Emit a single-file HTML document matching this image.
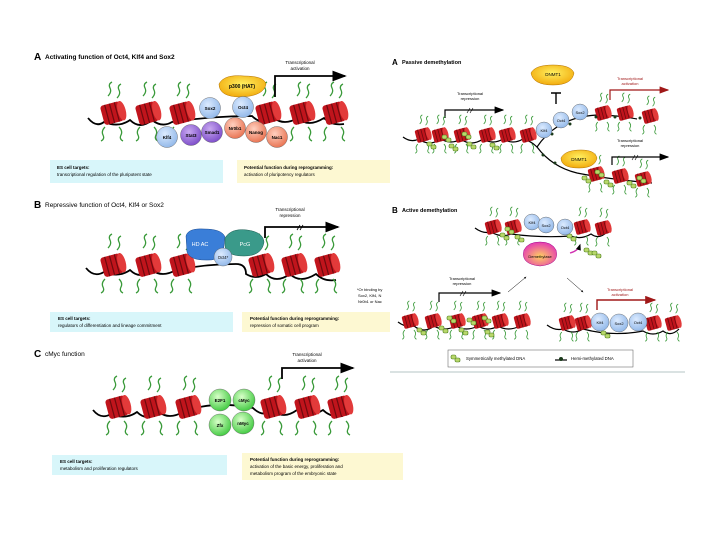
<!DOCTYPE html>
<html><head><meta charset="utf-8"><style>
html,body{margin:0;padding:0;background:#fff}
svg{display:block;font-family:"Liberation Sans",sans-serif}
</style></head><body>
<svg width="720" height="540" viewBox="0 0 720 540" xmlns="http://www.w3.org/2000/svg">
<defs>
<g id="n">
 <path d="M-5,-17 q4,-4 2,-8 q-2,-4 2,-6 M4,-15 q4,-4 2,-8 q-2,-4 2,-6 M-8,14 q-4,4 -2,8 q2,4 -2,6 M6,14 q4,4 2,8 q-2,4 2,6" fill="none" stroke="#3a9a3a" stroke-width="1.3"/>
 <g transform="rotate(-15)">
  <rect x="-11" y="-10" width="20" height="20" rx="3" fill="#c0141c"/>
  <ellipse cx="9" cy="0" rx="4" ry="10" fill="#e23a3a"/>
  <path d="M-6,-10 v20 M-1,-10 v20 M4,-10 v20" stroke="#6e0a0e" stroke-width="1.2"/>
 </g>
</g>
<g id="m"><rect x="-3" y="-2" width="5" height="4" rx="1.5" fill="#b8d86a" stroke="#4a7a1a" stroke-width=".6"/><rect x="1" y="1" width="5" height="4" rx="1.5" fill="#b8d86a" stroke="#4a7a1a" stroke-width=".6"/></g>
<radialGradient id="gb" cx=".4" cy=".35" r=".7"><stop offset="0" stop-color="#dcebff"/><stop offset="1" stop-color="#8fb6e8"/></radialGradient>
<radialGradient id="gp" cx=".4" cy=".35" r=".7"><stop offset="0" stop-color="#c8a8f0"/><stop offset="1" stop-color="#7a4ac8"/></radialGradient>
<radialGradient id="gs" cx=".4" cy=".35" r=".7"><stop offset="0" stop-color="#ffd0c0"/><stop offset="1" stop-color="#e8704e"/></radialGradient>
<radialGradient id="gg" cx=".4" cy=".35" r=".7"><stop offset="0" stop-color="#d8ffc8"/><stop offset="1" stop-color="#3cc83c"/></radialGradient>
<radialGradient id="gy" cx=".5" cy=".4" r=".7"><stop offset="0" stop-color="#fff060"/><stop offset="1" stop-color="#f0a000"/></radialGradient>
<radialGradient id="gm" cx=".5" cy=".6" r=".7"><stop offset="0" stop-color="#ffd060"/><stop offset="1" stop-color="#e020c0"/></radialGradient>
<marker id="ab" markerWidth="8" markerHeight="6" refX="7" refY="3" orient="auto"><path d="M0,0 L8,3 L0,6z" fill="#000"/></marker>
<marker id="ar" markerWidth="8" markerHeight="6" refX="7" refY="3" orient="auto"><path d="M0,0 L8,3 L0,6z" fill="#a01818"/></marker>
<marker id="as" markerWidth="5" markerHeight="4" refX="4" refY="2" orient="auto"><path d="M0,0 L5,2 L0,4z" fill="#000"/></marker>
</defs>

<!-- ================= LEFT A ================= -->
<text x="34" y="60" font-size="10" font-weight="bold">A</text>
<text x="45" y="59" font-size="6.5" font-weight="bold">Activating function of Oct4, Klf4 and Sox2</text>
<path d="M88,118 q8,10 16,4 q15,6 26,-2 q10,10 22,0 q10,8 20,2 q40,-6 80,-6 q10,10 22,2 q10,8 24,0 q10,10 26,0 q8,8 20,6" fill="none" stroke="#000" stroke-width="1.8"/>
<use href="#n" x="113" y="113"/><use href="#n" x="148" y="113"/><use href="#n" x="182" y="113"/>
<use href="#n" x="268" y="113"/><use href="#n" x="302" y="113"/><use href="#n" x="335" y="113"/>
<path d="M219,84 q5,-10 25,-8 q20,0 22,8 q-2,12 -25,13 q-22,0 -22,-13z" fill="url(#gy)" stroke="#b07000" stroke-width=".5"/>
<text x="242" y="88" font-size="5" text-anchor="middle" font-weight="bold">p300 (HAT)</text>
<path d="M275,97 V76 H345" fill="none" stroke="#000" stroke-width="1.8" marker-end="url(#ab)"/>
<text x="300" y="64" font-size="4.5" text-anchor="middle">Transcriptional</text><text x="300" y="70" font-size="4.5" text-anchor="middle">activation</text>
<g stroke="#555" stroke-width=".4" font-size="4.5" text-anchor="middle" font-weight="bold">
<circle cx="210" cy="108" r="10.5" fill="url(#gb)"/><circle cx="243" cy="107" r="10.5" fill="url(#gb)"/>
<circle cx="167" cy="137" r="10.5" fill="url(#gb)"/><circle cx="191" cy="135" r="10.5" fill="url(#gp)"/><circle cx="212" cy="132" r="10.5" fill="url(#gp)"/>
<circle cx="235" cy="128" r="10.5" fill="url(#gs)"/><circle cx="256" cy="132" r="10.5" fill="url(#gs)"/><circle cx="277" cy="137" r="10.5" fill="url(#gs)"/>
</g>
<g font-size="4.5" text-anchor="middle" font-weight="bold">
<text x="210" y="110">Sox2</text><text x="243" y="109">Oct4</text><text x="167" y="139">Klf4</text><text x="191" y="137">Stat3</text><text x="212" y="134">Smad1</text><text x="235" y="130">Nr0b1</text><text x="256" y="134">Nanog</text><text x="277" y="139">Nac1</text>
</g>
<rect x="50" y="160" width="173" height="23" fill="#d8f6fa"/>
<text x="57" y="169" font-size="4.5" font-weight="bold">ES cell targets:</text><text x="57" y="176" font-size="4.5">transcriptional regulation of the pluripotent state</text>
<rect x="237" y="160" width="153" height="23" fill="#fdf8d2"/>
<text x="244" y="169" font-size="4.5" font-weight="bold">Potential function during reprogramming:</text><text x="244" y="176" font-size="4.5">activation of pluripotency regulators</text>

<!-- ================= LEFT B ================= -->
<text x="34" y="208" font-size="10" font-weight="bold">B</text>
<text x="45" y="207" font-size="6.5">Repressive function of Oct4, Klf4 or Sox2</text>
<path d="M86,268 q8,10 18,4 q15,6 26,-2 q10,10 22,0 q10,8 24,0 q30,-6 60,-6 q10,0 10,10 q10,6 20,0 q10,10 24,0 q10,10 26,0 q8,8 20,6" fill="none" stroke="#000" stroke-width="1.8"/>
<use href="#n" x="113" y="265"/><use href="#n" x="148" y="265"/><use href="#n" x="182" y="265"/>
<use href="#n" x="261" y="265"/><use href="#n" x="294" y="265"/><use href="#n" x="327" y="265"/>
<path d="M186,236 q2,-8 18,-7 q18,0 21,8 l-2,16 q-4,8 -18,7 q-15,0 -18,-8z" fill="#3a7ed8" stroke="#1a4a90" stroke-width=".5"/>
<path d="M225,238 q6,-10 22,-8 q16,2 17,12 q-2,14 -20,14 q-18,0 -19,-10z" fill="#3a9a8a" stroke="#1a5a50" stroke-width=".5"/>
<circle cx="223" cy="257" r="9" fill="url(#gb)" stroke="#555" stroke-width=".4"/>
<text x="200" y="246" font-size="5.5" fill="#fff" text-anchor="middle">HD AC</text>
<text x="245" y="246" font-size="5.5" fill="#fff" text-anchor="middle">PcG</text>
<text x="223" y="259" font-size="4.2" text-anchor="middle">Oct4*</text>
<path d="M265,238 V227 H338" fill="none" stroke="#000" stroke-width="1.8" marker-end="url(#ab)"/>
<path d="M297,230 l3,-5 M300,230 l3,-5" stroke="#000" stroke-width=".8"/>
<text x="290" y="211" font-size="4.5" text-anchor="middle">Transcriptional</text><text x="290" y="217" font-size="4.5" text-anchor="middle">repression</text>
<text x="357" y="291" font-size="4">*Or binding by</text><text x="358" y="297" font-size="4">Sox2, Klf4, N</text><text x="358" y="303" font-size="4">Nr0b1 or Nac</text>
<rect x="50" y="312" width="183" height="20" fill="#d8f6fa"/>
<text x="58" y="320" font-size="4.5" font-weight="bold">ES cell targets:</text><text x="58" y="327" font-size="4.5">regulators of differentiation and lineage commitment</text>
<rect x="242" y="312" width="148" height="20" fill="#fdf8d2"/>
<text x="250" y="320" font-size="4.5" font-weight="bold">Potential function during reprogramming:</text><text x="250" y="327" font-size="4.5">repression of somatic cell program</text>

<!-- ================= LEFT C ================= -->
<text x="34" y="357" font-size="10" font-weight="bold">C</text>
<text x="45" y="356" font-size="6.5">cMyc function</text>
<path d="M93,410 q8,10 18,4 q15,6 26,-2 q10,10 22,0 q10,8 24,0 q30,-12 70,-4 q10,10 20,2 q10,10 24,0 q10,10 26,0 q8,8 20,6" fill="none" stroke="#000" stroke-width="1.8"/>
<use href="#n" x="118" y="407"/><use href="#n" x="153" y="407"/><use href="#n" x="188" y="407"/>
<use href="#n" x="273" y="407"/><use href="#n" x="307" y="407"/><use href="#n" x="340" y="407"/>
<g stroke="#555" stroke-width=".4"><circle cx="220" cy="400" r="11" fill="url(#gg)"/><circle cx="244" cy="400" r="11" fill="url(#gg)"/><circle cx="220" cy="425" r="11" fill="url(#gg)"/><circle cx="243" cy="423" r="11" fill="url(#gg)"/></g>
<g font-size="4.5" text-anchor="middle" font-weight="bold"><text x="220" y="402">E2F1</text><text x="244" y="402">cMyc</text><text x="220" y="427">Zfx</text><text x="243" y="425">nMyc</text></g>
<path d="M282,379 V368 H353" fill="none" stroke="#000" stroke-width="1.8" marker-end="url(#ab)"/>
<text x="307" y="356" font-size="4.5" text-anchor="middle">Transcriptional</text><text x="307" y="362" font-size="4.5" text-anchor="middle">activation</text>
<rect x="52" y="455" width="175" height="20" fill="#d8f6fa"/>
<text x="60" y="463" font-size="4.5" font-weight="bold">ES cell targets:</text><text x="60" y="470" font-size="4.5">metabolism and proliferation regulators</text>
<rect x="242" y="453" width="161" height="27" fill="#fdf8d2"/>
<text x="250" y="461" font-size="4.5" font-weight="bold">Potential function during reprogramming:</text><text x="250" y="468" font-size="4.5">activation of the basic energy, proliferation and</text><text x="250" y="475" font-size="4.5">metabolism program of the embryonic state</text>
<line x1="390" y1="372" x2="685" y2="372" stroke="#6a8a8a" stroke-width=".6"/>

<!-- ================= RIGHT A ================= -->
<text x="392" y="65" font-size="8" font-weight="bold">A</text>
<text x="402" y="64" font-size="5.5" font-weight="bold">Passive demethylation</text>
<path d="M531,73 q4,-8 22,-8 q18,0 21,8 q-2,12 -21,12 q-20,0 -22,-12z" fill="url(#gy)" stroke="#b07000" stroke-width=".5"/>
<text x="553" y="76" font-size="4.5" text-anchor="middle">DNMT1</text>
<path d="M556,104 V93 M551,93 H561" stroke="#000" stroke-width="1.4"/>
<path d="M445,118 V110 H503" fill="none" stroke="#000" stroke-width="1.2" marker-end="url(#ab)"/>
<path d="M467,113 l3,-5 M470,113 l3,-5" stroke="#000" stroke-width=".6"/>
<text x="470" y="95" font-size="4" text-anchor="middle">Transcriptional</text><text x="470" y="100" font-size="4" text-anchor="middle">repression</text>
<path d="M403,137 q8,6 16,2 q10,8 22,0 q10,6 20,0 q10,8 22,0 q10,6 20,0 q10,6 20,0 q8,2 14,8 q20,-30 60,-32 q20,0 40,4" fill="none" stroke="#000" stroke-width="1.2"/>
<path d="M537,147 q15,20 40,26 q30,6 75,10" fill="none" stroke="#000" stroke-width="1.2"/>
<g transform="translate(0,0)">
<use href="#n" transform="translate(423,135) scale(.65)"/><use href="#n" transform="translate(440,135) scale(.65)"/><use href="#n" transform="translate(462,135) scale(.65)"/>
<use href="#n" transform="translate(487,135) scale(.65)"/><use href="#n" transform="translate(507,135) scale(.65)"/><use href="#n" transform="translate(528,135) scale(.65)"/>
<use href="#n" transform="translate(603,113) scale(.65)"/><use href="#n" transform="translate(625,113) scale(.65)"/><use href="#n" transform="translate(650,116) scale(.65)"/>
<use href="#n" transform="translate(596,174) scale(.65)"/><use href="#n" transform="translate(620,176) scale(.65)"/><use href="#n" transform="translate(643,179) scale(.65)"/>
</g>
<g><use href="#m" x="430" y="144"/><use href="#m" x="452" y="146"/><use href="#m" x="470" y="144"/><use href="#m" x="493" y="145"/><use href="#m" x="445" y="137"/><use href="#m" x="465" y="134"/><use href="#m" x="585" y="178"/><use href="#m" x="607" y="182"/><use href="#m" x="630" y="183"/><use href="#m" x="598" y="172"/><use href="#m" x="640" y="178"/></g>
<g fill="#1a3a1a"><circle cx="552" cy="134" r="1.5"/><circle cx="570" cy="124" r="1.5"/><circle cx="596" cy="117" r="1.5"/><circle cx="615" cy="117" r="1.5"/><circle cx="640" cy="118" r="1.5"/><circle cx="543" cy="155" r="1.5"/><circle cx="555" cy="163" r="1.5"/></g>
<g stroke="#555" stroke-width=".4"><circle cx="544" cy="130" r="8" fill="url(#gb)"/><circle cx="561" cy="120" r="8" fill="url(#gb)"/><circle cx="580" cy="112" r="8" fill="url(#gb)"/></g>
<g font-size="4" text-anchor="middle"><text x="544" y="132">Klf4</text><text x="561" y="122">Oct4</text><text x="580" y="114">Sox2</text></g>
<path d="M610,100 V90 H668" fill="none" stroke="#a01818" stroke-width="1.2" marker-end="url(#ar)"/>
<text x="630" y="80" font-size="4" text-anchor="middle" fill="#a01818">Transcriptional</text><text x="630" y="85" font-size="4" text-anchor="middle" fill="#a01818">activation</text>
<path d="M561,158 q4,-8 20,-8 q14,0 16,8 q-2,10 -18,10 q-18,0 -18,-10z" fill="url(#gy)" stroke="#b07000" stroke-width=".5"/>
<text x="579" y="161" font-size="4.5" text-anchor="middle">DNMT1</text>
<path d="M612,165 V157 H668" fill="none" stroke="#000" stroke-width="1.2" marker-end="url(#ab)"/>
<path d="M632,160 l3,-5 M635,160 l3,-5" stroke="#000" stroke-width=".6"/>
<text x="630" y="142" font-size="4" text-anchor="middle">Transcriptional</text><text x="630" y="147" font-size="4" text-anchor="middle">repression</text>

<!-- ================= RIGHT B ================= -->
<text x="392" y="213" font-size="8" font-weight="bold">B</text>
<text x="402" y="212" font-size="5.5" font-weight="bold">Active demethylation</text>
<path d="M475,228 q8,6 16,4 q10,6 20,2 q30,4 60,2 q10,4 20,-2 q8,6 16,-2" fill="none" stroke="#000" stroke-width="1.2"/>
<use href="#n" transform="translate(493,227) scale(.65)"/><use href="#n" transform="translate(513,227) scale(.65)"/><use href="#n" transform="translate(582,227) scale(.65)"/><use href="#n" transform="translate(603,228) scale(.65)"/>
<use href="#m" x="503" y="235"/><use href="#m" x="518" y="237"/><use href="#m" x="508" y="229"/><use href="#m" x="570" y="236"/><use href="#m" x="587" y="250"/><use href="#m" x="595" y="253"/>
<g stroke="#555" stroke-width=".4"><circle cx="532" cy="222" r="8" fill="url(#gb)"/><circle cx="546" cy="225" r="8" fill="url(#gb)"/><circle cx="565" cy="227" r="8" fill="url(#gb)"/></g>
<g font-size="4" text-anchor="middle"><text x="532" y="224">Klf4</text><text x="546" y="227">Sox2</text><text x="565" y="229">Oct4</text></g>
<path d="M524,250 q4,-8 16,-8 q12,0 16,8 q4,14 -16,16 q-20,-2 -16,-16z" fill="url(#gm)" stroke="#a0108a" stroke-width=".5"/>
<text x="540" y="258" font-size="4" text-anchor="middle">Demethylase</text>
<path d="M570,253 q8,-2 10,-8" fill="none" stroke="#d030b0" stroke-width="1.3" marker-end="url(#as)"/>
<line x1="508" y1="292" x2="526" y2="277" stroke="#000" stroke-width=".5" marker-end="url(#as)"/>
<line x1="567" y1="278" x2="583" y2="292" stroke="#000" stroke-width=".5" marker-end="url(#as)"/>
<path d="M439,302 V293 H500" fill="none" stroke="#000" stroke-width="1.2" marker-end="url(#ab)"/>
<path d="M460,296 l3,-5 M463,296 l3,-5" stroke="#000" stroke-width=".6"/>
<text x="462" y="280" font-size="4" text-anchor="middle">Transcriptional</text><text x="462" y="285" font-size="4" text-anchor="middle">repression</text>
<path d="M398,322 q8,6 16,4 q10,8 20,0 q10,6 22,0 q10,6 22,0 q10,6 20,0 q10,6 22,0" fill="none" stroke="#000" stroke-width="1.2"/>
<use href="#n" transform="translate(410,321) scale(.65)"/><use href="#n" transform="translate(433,321) scale(.65)"/><use href="#n" transform="translate(457,321) scale(.65)"/><use href="#n" transform="translate(480,321) scale(.65)"/><use href="#n" transform="translate(500,321) scale(.65)"/><use href="#n" transform="translate(522,321) scale(.65)"/>
<g><use href="#m" x="420" y="330"/><use href="#m" x="442" y="328"/><use href="#m" x="450" y="318"/><use href="#m" x="462" y="330"/><use href="#m" x="470" y="320"/><use href="#m" x="488" y="332"/><use href="#m" x="485" y="318"/></g>
<path d="M597,310 V300 H655" fill="none" stroke="#a01818" stroke-width="1.4" marker-end="url(#ar)"/>
<text x="620" y="291" font-size="4" text-anchor="middle" fill="#a01818">Transcriptional</text><text x="620" y="296" font-size="4" text-anchor="middle" fill="#a01818">activation</text>
<path d="M547,325 q8,6 16,4 q10,6 20,0 q30,8 60,2 q10,6 20,0 q8,6 16,-2" fill="none" stroke="#000" stroke-width="1.2"/>
<use href="#n" transform="translate(567,323) scale(.65)"/><use href="#n" transform="translate(583,323) scale(.65)"/><use href="#n" transform="translate(653,323) scale(.65)"/><use href="#n" transform="translate(673,323) scale(.65)"/>
<use href="#m" x="604" y="333"/>
<g stroke="#555" stroke-width=".4"><circle cx="600" cy="322" r="9" fill="url(#gb)"/><circle cx="619" cy="323" r="9" fill="url(#gb)"/><circle cx="638" cy="322" r="9" fill="url(#gb)"/></g>
<g font-size="4" text-anchor="middle"><text x="600" y="324">Klf4</text><text x="619" y="325">Sox2</text><text x="638" y="324">Oct4</text></g>
<rect x="448" y="350" width="185" height="17" fill="#fff" stroke="#555" stroke-width=".5"/>
<use href="#m" x="454" y="357"/>
<text x="466" y="360" font-size="4.3">Symmetrically methylated DNA</text>
<line x1="555" y1="360" x2="567" y2="360" stroke="#000" stroke-width="1.2"/><circle cx="561" cy="359" r="2" fill="#1a3a1a"/>
<text x="571" y="360" font-size="4.3">Hemi-methylated DNA</text>
</svg>
</body></html>
